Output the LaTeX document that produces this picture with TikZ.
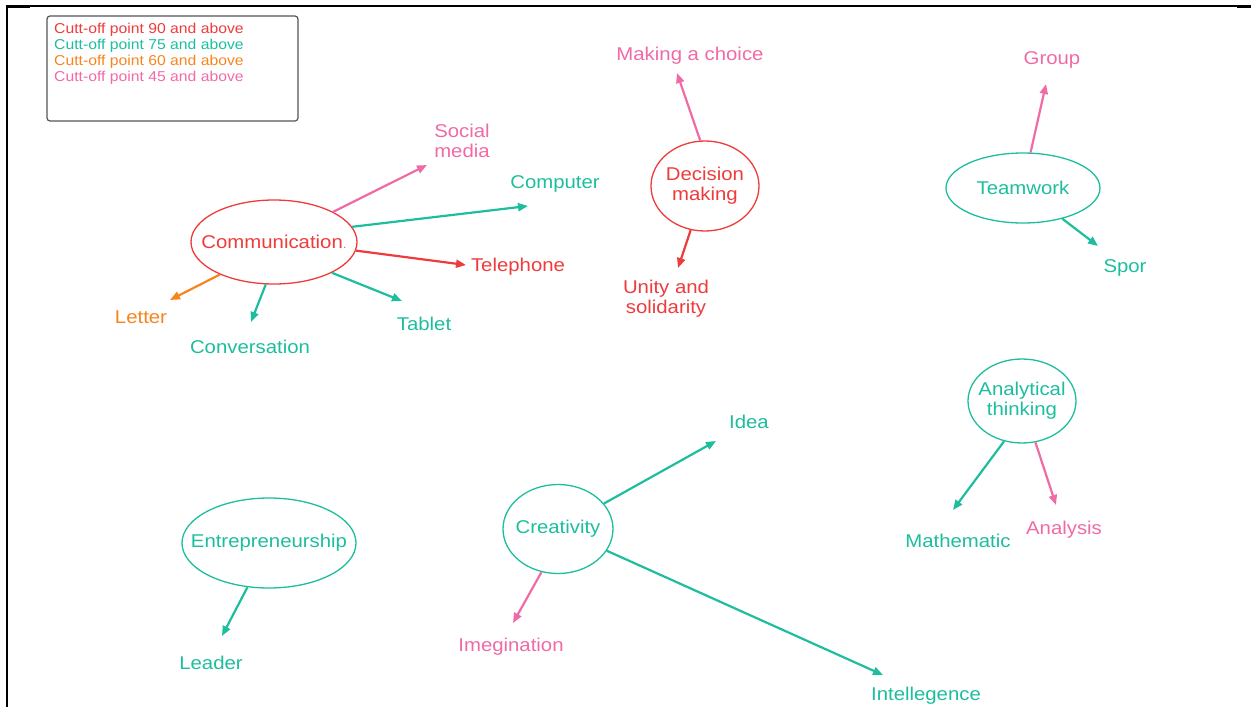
\documentclass[tikz,border=0pt]{standalone}
\usepackage{fontspec}
\setmainfont{Liberation Sans}[FakeStretch=1.1]
\usetikzlibrary{arrows.meta,shapes.geometric}

\definecolor{cred}{HTML}{EE3B3B}
\definecolor{cteal}{HTML}{1CBE9D}
\definecolor{cpink}{HTML}{F06AA6}
\definecolor{corange}{HTML}{F7851E}
\definecolor{cdot}{HTML}{7F8FC8}
\definecolor{cframe}{HTML}{555555}

\begin{document}
\begin{tikzpicture}[x=1pt,y=-1pt,
  bubble/.style={ellipse,draw,line width=1.3pt,inner sep=0pt},
  lbl/.style={inner sep=0pt,align=center,font=\fontsize{18.5}{20}\selectfont},
  olbl/.style={lbl,yshift=-2.5pt},
  link/.style={line width=2.2pt,-{Triangle[length=10pt,width=8pt]}},
]
\useasboundingbox (0,0) rectangle (1251,707);

% page frame
\draw[line width=1.6pt] (7,707) -- (7,6) -- (1251,6);
\draw[line width=3pt] (7,6) -- (30,6);
\draw[line width=3pt] (1237,6) -- (1251,6);

% legend
\draw[cframe,line width=1.2pt,rounded corners=3pt] (47,16) rectangle (298,121);
\node[anchor=north west,inner sep=0pt,align=left,
      font=\fontsize{14.3}{16}\selectfont] (legend) at (54,22.5)
  {\textcolor{cred}{Cutt-off point 90 and above}\\
   \textcolor{cteal}{Cutt-off point 75 and above}\\
   \textcolor{corange}{Cutt-off point 60 and above}\\
   \textcolor{cpink}{Cutt-off point 45 and above}};

% central concepts
\node[bubble,cred,minimum width=166pt,minimum height=84pt,
      label={[lbl,text=cred]center:Communication{\color{cdot}\fontsize{12}{12}\selectfont.}}] (comm) at (274,242) {};
\node[bubble,cred,minimum width=108pt,minimum height=90pt,
      label={[lbl,text=cred]center:Decision\\making}] (dec) at (705,186) {};
\node[bubble,cteal,minimum width=154pt,minimum height=70pt,
      label={[lbl,text=cteal]center:Teamwork}] (team) at (1023,188) {};
\node[bubble,cteal,minimum width=108pt,minimum height=84pt,
      label={[lbl,text=cteal]center:Analytical\\thinking}] (anal) at (1022,401) {};
\node[bubble,cteal,minimum width=174pt,minimum height=90pt,
      label={[lbl,text=cteal]center:Entrepreneurship}] (entre) at (269,543) {};
\node[bubble,cteal,minimum width=110pt,minimum height=89pt,
      label={[lbl,text=cteal]center:Creativity}] (crea) at (558,529) {};

% outcome labels
\node[olbl,text=cpink] (social) at (462,138) {Social\\media};
\node[olbl,text=cteal] (computer) at (555,181) {Computer};
\node[olbl,text=cred] (telephone) at (518,264) {Telephone};
\node[olbl,text=cteal] (tablet) at (424,321) {Tablet};
\node[olbl,text=cteal] (conversation) at (250,344) {Conversation};
\node[olbl,text=corange] (letter) at (141,315) {Letter};
\node[olbl,text=cpink] (choice) at (690,53) {Making a choice};
\node[olbl,text=cred] (unity) at (666,296) {Unity and\\solidarity};
\node[olbl,text=cpink] (group) at (1052,57) {Group};
\node[olbl,text=cteal] (spor) at (1125,265) {Spor};
\node[olbl,text=cteal] (idea) at (749,419) {Idea};
\node[olbl,text=cteal] (math) at (958,538) {Mathematic};
\node[olbl,text=cpink] (analysis) at (1064,527) {Analysis};
\node[olbl,text=cteal] (leader) at (211,660) {Leader};
\node[olbl,text=cpink] (imeg) at (511,644) {Imegination};
\node[olbl,text=cteal] (intel) at (926,693) {Intellegence};

% arrow tips
\coordinate (social-tip) at (427,165);
\coordinate (computer-tip) at (528,206);
\coordinate (telephone-tip) at (466,265);
\coordinate (tablet-tip) at (402,301);
\coordinate (conversation-tip) at (251,322);
\coordinate (letter-tip) at (170,300);
\coordinate (choice-tip) at (677,73);
\coordinate (unity-tip) at (678,268);
\coordinate (group-tip) at (1046,84);
\coordinate (spor-tip) at (1098,246);
\coordinate (math-tip) at (953,510);
\coordinate (analysis-tip) at (1056,505);
\coordinate (leader-tip) at (222,636);
\coordinate (idea-tip) at (716,441);
\coordinate (imeg-tip) at (513,623);
\coordinate (intel-tip) at (883,675);

% connectors
\draw[link,cpink] (comm.27.7) -- (social-tip);
\draw[link,cteal] (comm.11.6) -- (computer-tip);
\draw[link,cred] (comm.-6.3) -- (telephone-tip);
\draw[link,cteal] (comm.-28) -- (tablet-tip);
\draw[link,cteal] (comm.-101.8) -- (conversation-tip);
\draw[link,corange] (comm.-149.8) -- (letter-tip);
\draw[link,cpink] (dec.96.3) -- (choice-tip);
\draw[link,cred] (dec.-108.8) -- (unity-tip);
\draw[link,cpink] (team.78.7) -- (group-tip);
\draw[link,cteal] (team.-38.8) -- (spor-tip);
\draw[link,cteal] (anal.-114.3) -- (math-tip);
\draw[link,cpink] (anal.-72.3) -- (analysis-tip);
\draw[link,cteal] (entre.-116) -- (leader-tip);
\draw[link,cteal] (crea.29) -- (idea-tip);
\draw[link,cpink] (crea.-111) -- (imeg-tip);
\draw[link,cteal] (crea.-24.6) -- (intel-tip);
\end{tikzpicture}
\end{document}
